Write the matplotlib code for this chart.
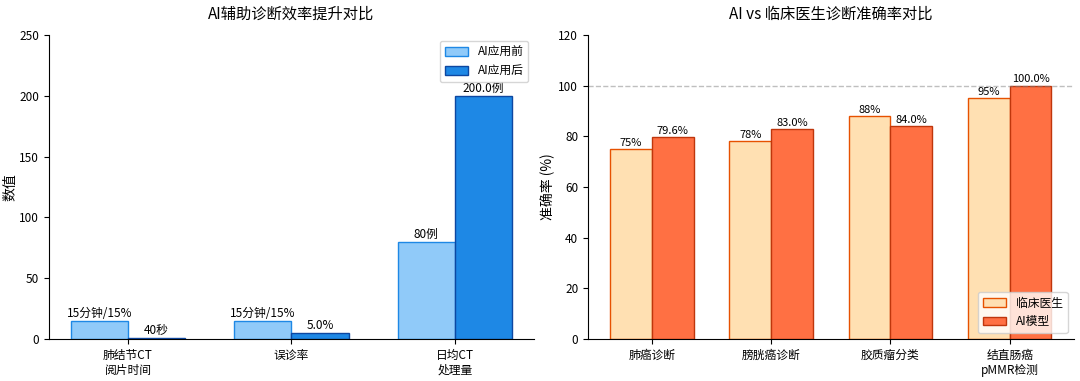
import numpy as np
import matplotlib
matplotlib.use("Agg")
import matplotlib.pyplot as plt

plt.rcParams['font.family'] = ['Noto Sans CJK SC', 'DejaVu Sans']
plt.rcParams['axes.unicode_minus'] = False

# 左图：效率对比
eff_labels = ['肺结节CT\n阅片时间', '误诊率', '日均CT\n处理量']
eff_before = [15, 15, 80]
eff_after = [0.67, 5, 200]
eff_before_text = ['15分钟/15%', '15分钟/15%', '80例']
eff_after_text = ['40秒', '5.0%', '200.0例']

# 右图：准确率对比
acc_labels = ['肺癌诊断', '膀胱癌诊断', '胶质瘤分类', '结直肠癌\npMMR检测']
acc_doctor = [75, 78, 88, 95]
acc_ai = [79.6, 83.0, 84.0, 100.0]

w = 0.35
fig, (ax1, ax2) = plt.subplots(1, 2, figsize=(10.8, 3.81), dpi=100)
fig.subplots_adjust(left=0.045, right=0.994, bottom=0.11, top=0.908, wspace=0.111)

x = np.arange(len(eff_labels))
b1 = ax1.bar(x - w / 2, eff_before, w, color='#90CAF9', edgecolor='#1E88E5',
             linewidth=1, label='AI应用前')
b2 = ax1.bar(x + w / 2, eff_after, w, color='#1E88E5', edgecolor='#0D47A1',
             linewidth=1, label='AI应用后')
for r, t in zip(b1, eff_before_text):
    ax1.text(r.get_x() + r.get_width() / 2, r.get_height() + 1, t,
             ha='center', va='bottom', fontsize=8.5)
for r, t in zip(b2, eff_after_text):
    ax1.text(r.get_x() + r.get_width() / 2, r.get_height() + 1, t,
             ha='center', va='bottom', fontsize=8.5)
ax1.set_xticks(x)
ax1.set_xticklabels(eff_labels)
ax1.set_ylim(0, 250)
ax1.set_ylabel('数值', fontsize=10, labelpad=1)
ax1.set_title('AI辅助诊断效率提升对比', fontsize=11, pad=12)
ax1.legend(loc='upper right', fontsize=8.5)

x2 = np.arange(len(acc_labels))
c1 = ax2.bar(x2 - w / 2, acc_doctor, w, color='#FFE0B2', edgecolor='#E65100',
             linewidth=1, label='临床医生')
c2 = ax2.bar(x2 + w / 2, acc_ai, w, color='#FF7043', edgecolor='#BF360C',
             linewidth=1, label='AI模型')
for r, v in zip(c1, acc_doctor):
    ax2.text(r.get_x() + r.get_width() / 2, v + 0.5, f'{v}%',
             ha='center', va='bottom', fontsize=8)
for r, v in zip(c2, acc_ai):
    ax2.text(r.get_x() + r.get_width() / 2, v + 0.5, f'{v:.1f}%',
             ha='center', va='bottom', fontsize=8)
ax2.axhline(100, color='gray', linestyle='--', alpha=0.5, linewidth=1)
ax2.set_xticks(x2)
ax2.set_xticklabels(acc_labels)
ax2.set_ylim(0, 120)
ax2.set_ylabel('准确率 (%)', fontsize=10, labelpad=2)
ax2.set_title('AI vs 临床医生诊断准确率对比', fontsize=11, pad=12)
ax2.legend(loc='lower right', fontsize=8.5)

for ax in (ax1, ax2):
    ax.spines['top'].set_visible(False)
    ax.spines['right'].set_visible(False)
    ax.tick_params(labelsize=8.5)

fig.savefig('out.png', dpi=100)
